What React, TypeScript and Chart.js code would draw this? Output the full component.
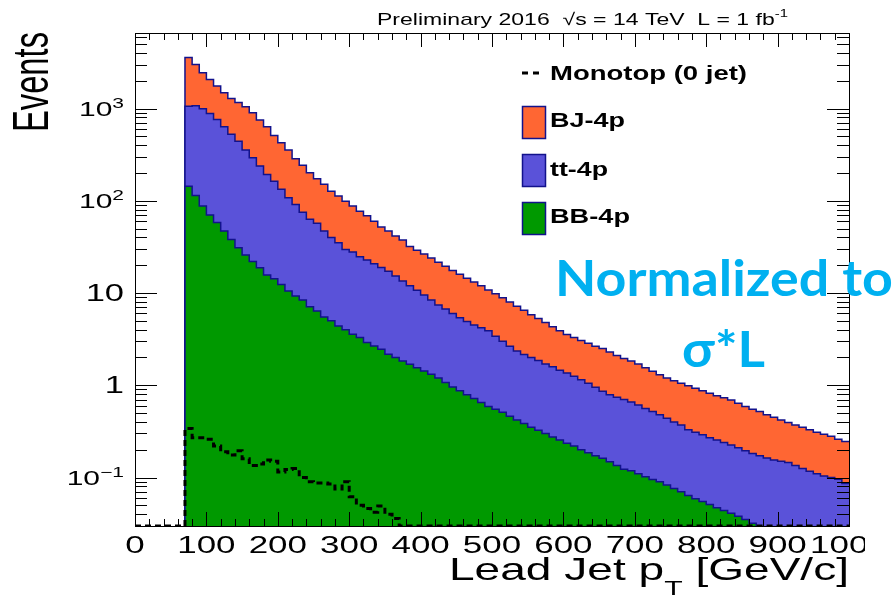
import React, { useEffect, useRef } from "react";
import { Chart, registerables } from "chart.js";

Chart.register(...registerables);

// ---------------- data ----------------
// lower edges of the 10 GeV bins (GeV)
const BIN_LOW = [
  70, 80, 90, 100, 110, 120, 130, 140, 150, 160,
  170, 180, 190, 200, 210, 220, 230, 240, 250, 260,
  270, 280, 290, 300, 310, 320, 330, 340, 350, 360,
  370, 380, 390, 400, 410, 420, 430, 440, 450, 460,
  470, 480, 490, 500, 510, 520, 530, 540, 550, 560,
  570, 580, 590, 600, 610, 620, 630, 640, 650, 660,
  670, 680, 690, 700, 710, 720, 730, 740, 750, 760,
  770, 780, 790, 800, 810, 820, 830, 840, 850, 860,
  870, 880, 890, 900, 910, 920, 930, 940, 950, 960,
  970, 980, 990,
];
const BIN_WIDTH = 10;

const BJ_4P = [
  2518, 1927, 1455, 1180, 988, 852, 763, 720, 692, 609,
  512, 440, 348, 293, 247, 195, 167, 138, 116, 104,
  87, 78, 69.3, 60.2, 52.2, 46.2, 39.2, 33.2, 29.7, 26.2,
  24.0, 20.0, 18.3, 17.0, 15.6, 14.1, 12.8, 11.5, 10.6, 9.6,
  8.7, 7.8, 6.9, 6.4, 5.9, 5.35, 4.85, 4.35, 3.8, 3.45,
  3.1, 2.72, 2.45, 2.2, 2.05, 1.9, 1.8, 1.7, 1.64, 1.51,
  1.36, 1.25, 1.17, 1.09, 0.99, 0.9, 0.82, 0.76, 0.72, 0.68,
  0.66, 0.62, 0.58, 0.55, 0.515, 0.49, 0.465, 0.43, 0.395, 0.368,
  0.348, 0.317, 0.295, 0.27, 0.25, 0.235, 0.225, 0.213, 0.2, 0.191,
  0.18, 0.164, 0.159,
];

const TT_4P = [
  918, 959, 907, 815, 704, 586, 487, 412, 329, 271,
  219, 177, 149, 121, 97.5, 81.7, 66.6, 55.9, 50.6, 41.5,
  35, 30.6, 25.7, 24.2, 21.5, 19.9, 18.1, 16.4, 15.1, 13.3,
  11.7, 10.3, 9.15, 8.07, 7.08, 6.2, 5.63, 5.04, 4.53, 4.11,
  3.78, 3.55, 3.31, 2.85, 2.49, 2.19, 1.93, 1.77, 1.65, 1.53,
  1.4, 1.31, 1.2, 1.12, 1.03, 0.95, 0.865, 0.778, 0.698, 0.642,
  0.605, 0.577, 0.542, 0.5, 0.458, 0.425, 0.39, 0.357, 0.324, 0.3,
  0.266, 0.251, 0.235, 0.219, 0.208, 0.196, 0.184, 0.172, 0.16, 0.15,
  0.144, 0.137, 0.131, 0.128, 0.124, 0.116, 0.107, 0.101, 0.095, 0.09,
  0.087, 0.084, 0.075,
];

const BB_4P = [
  144, 114, 88, 70, 58, 47, 38, 31, 25.8, 22,
  18.8, 15.7, 14.3, 12.4, 10.5, 9.3, 8.4, 7.1, 6.4, 5.5,
  5.0, 4.4, 4.0, 3.57, 3.29, 2.9, 2.67, 2.45, 2.17, 2.0,
  1.83, 1.69, 1.55, 1.43, 1.32, 1.2, 1.07, 0.96, 0.87, 0.79,
  0.72, 0.65, 0.59, 0.55, 0.51, 0.46, 0.42, 0.385, 0.35, 0.325,
  0.3, 0.275, 0.255, 0.235, 0.22, 0.2, 0.185, 0.172, 0.162, 0.148,
  0.135, 0.123, 0.118, 0.11, 0.102, 0.095, 0.09, 0.083, 0.076, 0.07,
  0.064, 0.059, 0.055, 0.051, 0.047, 0.044, 0.041, 0.038, 0.035, 0.032,
  0.028, 0.026, 0.024, 0.022, 0.021, 0.019, 0.018, 0.016, 0.015, 0.014,
  0.013, 0.012, 0.011,
];

// Monotop (0 jet): bins from 70 GeV; bins not listed are empty
const MONOTOP = [
  0.34, 0.27, 0.27, 0.26, 0.22, 0.19, 0.175, 0.195, 0.16, 0.135,
  0.14, 0.155, 0.15, 0.115, 0.122, 0.125, 0.1, 0.09, 0.087, 0.087,
  0.085, 0.075, 0.09, 0.062, 0.05, 0.046, 0.042, 0.049, 0.04, 0.036,
];

const X_TICK_VALUES = [0, 100, 200, 300, 400, 500, 600, 700, 800, 900, 1000];
const X_TICK_LABELS = ["0", "100", "200", "300", "400", "500", "600", "700", "800", "900", "1000"];
const Y_TICK_VALUES = [0.1, 1, 10, 100, 1000];
const Y_TICK_LABELS: [string, string][] = [["10", "\u22121"], ["1", ""], ["10", ""], ["10", "2"], ["10", "3"]];

const X_MIN = 0;
const X_MAX = 1000;
const Y_MIN = 0.0298;
const Y_MAX = 6590;

const C_BJ = "#ff6633";
const C_TT = "#5a52d9";
const C_BB = "#009900";
const C_LINE = "#12128c";
const C_CYAN = "#00b0f0";

const FONT = '"Liberation Sans", Arial, Helvetica, sans-serif';

type Run = { t: string; size: number; bold?: boolean; dy?: number; family?: string };

function fontOf(r: Run) {
  return `${r.bold ? "bold " : ""}${r.size}px ${r.family || FONT}`;
}
function runsWidth(ctx: CanvasRenderingContext2D, runs: Run[]) {
  let w = 0;
  for (const r of runs) {
    ctx.font = fontOf(r);
    w += ctx.measureText(r.t).width;
  }
  return w;
}
function drawRuns(
  ctx: CanvasRenderingContext2D,
  runs: Run[],
  x: number,
  y: number,
  opt: { sx?: number; width?: number; align?: "left" | "right" | "center"; color?: string }
) {
  const nat = runsWidth(ctx, runs);
  const sx = opt.width ? opt.width / nat : opt.sx || 1;
  const w = nat * sx;
  const start = opt.align === "right" ? x - w : opt.align === "center" ? x - w / 2 : x;
  ctx.save();
  ctx.translate(start, y);
  ctx.scale(sx, 1);
  ctx.fillStyle = opt.color || "#000";
  ctx.textAlign = "left";
  ctx.textBaseline = "alphabetic";
  let cx = 0;
  for (const r of runs) {
    ctx.font = fontOf(r);
    ctx.fillText(r.t, cx, r.dy || 0);
    cx += ctx.measureText(r.t).width;
  }
  ctx.restore();
}

function line(ctx: CanvasRenderingContext2D, x1: number, y1: number, x2: number, y2: number) {
  ctx.beginPath();
  ctx.moveTo(x1, y1);
  ctx.lineTo(x2, y2);
  ctx.stroke();
}

const rootPlugin = {
  id: "rootDecor",
  beforeDraw(chart: any) {
    const ctx = chart.ctx as CanvasRenderingContext2D;
    ctx.save();
    ctx.fillStyle = "#fff";
    ctx.fillRect(0, 0, chart.width, chart.height);
    ctx.restore();
  },
  afterDraw(chart: any) {
    const ctx = chart.ctx as CanvasRenderingContext2D;
    const xs = chart.scales.x;
    const ys = chart.scales.y;
    const { left, right, top, bottom } = chart.chartArea;
    ctx.save();
    ctx.beginPath();
    ctx.rect(0, 0, 865, chart.height);
    ctx.clip();

    // frame
    ctx.strokeStyle = "#000";
    ctx.lineWidth = 1;
    ctx.strokeRect(Math.round(left) + 0.5, Math.round(top) + 0.5, Math.round(right - left), Math.round(bottom - top));

    // x ticks (top & bottom)
    for (let v = X_MIN; v <= X_MAX; v += 20) {
      const px = Math.round(xs.getPixelForValue(v)) + 0.5;
      const len = v % 100 === 0 ? 14 : 7;
      line(ctx, px, bottom, px, bottom - len);
      line(ctx, px, top, px, top + len);
    }
    // y ticks (left & right), log
    for (let d = -2; d <= 3; d++) {
      for (let m = 1; m <= 9; m++) {
        const v = m * Math.pow(10, d);
        if (v < Y_MIN || v > Y_MAX) continue;
        const py = Math.round(ys.getPixelForValue(v)) + 0.5;
        const len = m === 1 ? 22 : 12;
        line(ctx, left, py, left + len, py);
        line(ctx, right, py, right - len, py);
      }
    }

    // x tick labels
    X_TICK_VALUES.forEach((v, i) => {
      const px = xs.getPixelForValue(v);
      drawRuns(ctx, [{ t: X_TICK_LABELS[i], size: 23 }], px, bottom + 27, { sx: 1.52, align: "center" });
    });
    // y tick labels
    Y_TICK_VALUES.forEach((v, i) => {
      const py = ys.getPixelForValue(v);
      const [base, exp] = Y_TICK_LABELS[i];
      if (exp) {
        drawRuns(
          ctx,
          [
            { t: base, size: 20 },
            { t: exp, size: 14, dy: -8 },
          ],
          124,
          py + 7,
          { sx: 1.5, align: "right" }
        );
      } else {
        drawRuns(ctx, [{ t: base, size: 23 }], 124, py + 8, { sx: 1.5, align: "right" });
      }
    });

    // x title
    drawRuns(
      ctx,
      [
        { t: "Lead Jet p", size: 32 },
        { t: "T", size: 21, dy: 15 },
        { t: " [GeV/c]", size: 32 },
      ],
      right,
      580,
      { width: 400, align: "right" }
    );

    // y title
    ctx.save();
    ctx.font = `34px ${FONT}`;
    const ew = ctx.measureText("Events").width;
    ctx.translate(48, 132);
    ctx.rotate(-Math.PI / 2);
    ctx.scale(100 / ew, 1.45);
    ctx.fillStyle = "#000";
    ctx.textAlign = "left";
    ctx.fillText("Events", 0, 0);
    ctx.restore();

    // header
    drawRuns(
      ctx,
      [
        { t: "Preliminary 2016  \u221As = 14 TeV  L = 1 fb", size: 17 },
        { t: "-1", size: 11, dy: -8 },
      ],
      377,
      25,
      { width: 411, align: "left" }
    );

    // legend
    ctx.save();
    ctx.strokeStyle = "#000";
    ctx.lineWidth = 3;
    ctx.setLineDash([6, 5]);
    line(ctx, 522, 73, 544, 73);
    ctx.restore();
    drawRuns(ctx, [{ t: "Monotop (0 jet)", size: 20, bold: true }], 550, 80, { width: 197 });
    const boxes: [string, string, number, number, number][] = [
      ["BJ-4p", C_BJ, 106, 127, 75],
      ["tt-4p", C_TT, 154, 176, 58],
      ["BB-4p", C_BB, 202, 223, 80],
    ];
    for (const [label, col, by, ty, w] of boxes) {
      ctx.fillStyle = col;
      ctx.fillRect(522, by, 24, 33);
      ctx.strokeStyle = C_LINE;
      ctx.lineWidth = 1.5;
      ctx.strokeRect(522.5, by + 0.5, 23, 32);
      drawRuns(ctx, [{ t: label, size: 20, bold: true }], 550, ty, { width: w });
    }
    ctx.restore();

    // overlay annotation
    const fam = 'Lato, "Open Sans", sans-serif';
    drawRuns(ctx, [{ t: "Normalized to", size: 50, bold: true, family: fam }], 555, 296, { width: 338, color: C_CYAN });
    drawRuns(ctx, [{ t: "\u03C3*L", size: 50, bold: true, family: fam }], 682, 367, { width: 83, color: C_CYAN });
  },
};

function histPoints(vals: number[], startFromZero = false) {
  const pts: { x: number; y: number }[] = [];
  pts.push({ x: startFromZero ? X_MIN : BIN_LOW[0], y: Y_MIN });
  BIN_LOW.forEach((x, i) => {
    const v = vals[i] ?? 0;
    pts.push({ x, y: v > 0 ? v : Y_MIN });
  });
  const last = vals[BIN_LOW.length - 1] ?? 0;
  pts.push({ x: BIN_LOW[BIN_LOW.length - 1] + BIN_WIDTH, y: last > 0 ? last : Y_MIN });
  return pts;
}

export default function App() {
  const ref = useRef<HTMLCanvasElement>(null);
  useEffect(() => {
    if (!ref.current) return;
    const bb = BB_4P.slice();
    const ttTop = BIN_LOW.map((_, i) => BB_4P[i] + TT_4P[i]);
    const total = BIN_LOW.map((_, i) => BB_4P[i] + TT_4P[i] + BJ_4P[i]);
    const mono = BIN_LOW.map((_, i) => MONOTOP[i] ?? 0);

    const common = {
      stepped: "before" as const,
      pointRadius: 0,
      borderColor: C_LINE,
      borderWidth: 1.5,
      tension: 0,
    };
    const chart = new Chart(ref.current, {
      type: "line",
      data: {
        datasets: [
          {
            label: "Monotop (0 jet)",
            data: histPoints(mono, true),
            stepped: "before",
            pointRadius: 0,
            borderColor: "#000",
            borderWidth: 3,
            borderDash: [6, 4],
            fill: false,
          },
          { label: "BB-4p", data: histPoints(bb), backgroundColor: C_BB, fill: "start", ...common },
          { label: "tt-4p", data: histPoints(ttTop), backgroundColor: C_TT, fill: "start", ...common },
          { label: "BJ-4p", data: histPoints(total), backgroundColor: C_BJ, fill: "start", ...common },
        ] as any,
      },
      options: {
        responsive: false,
        animation: false,
        parsing: true,
        layout: { padding: { left: 135, top: 33, right: 46, bottom: 71 } },
        plugins: { legend: { display: false }, tooltip: { enabled: false } },
        scales: {
          x: { type: "linear", min: X_MIN, max: X_MAX, display: false },
          y: { type: "logarithmic", min: Y_MIN, max: Y_MAX, display: false },
        },
      },
      plugins: [rootPlugin],
    });
    return () => chart.destroy();
  }, []);
  return (
    <div style={{ position: "fixed", left: 0, top: 0, width: 895, height: 597, background: "#fff" }}>
      <canvas ref={ref} width={895} height={597} style={{ width: 895, height: 597, display: "block" }} />
    </div>
  );
}
